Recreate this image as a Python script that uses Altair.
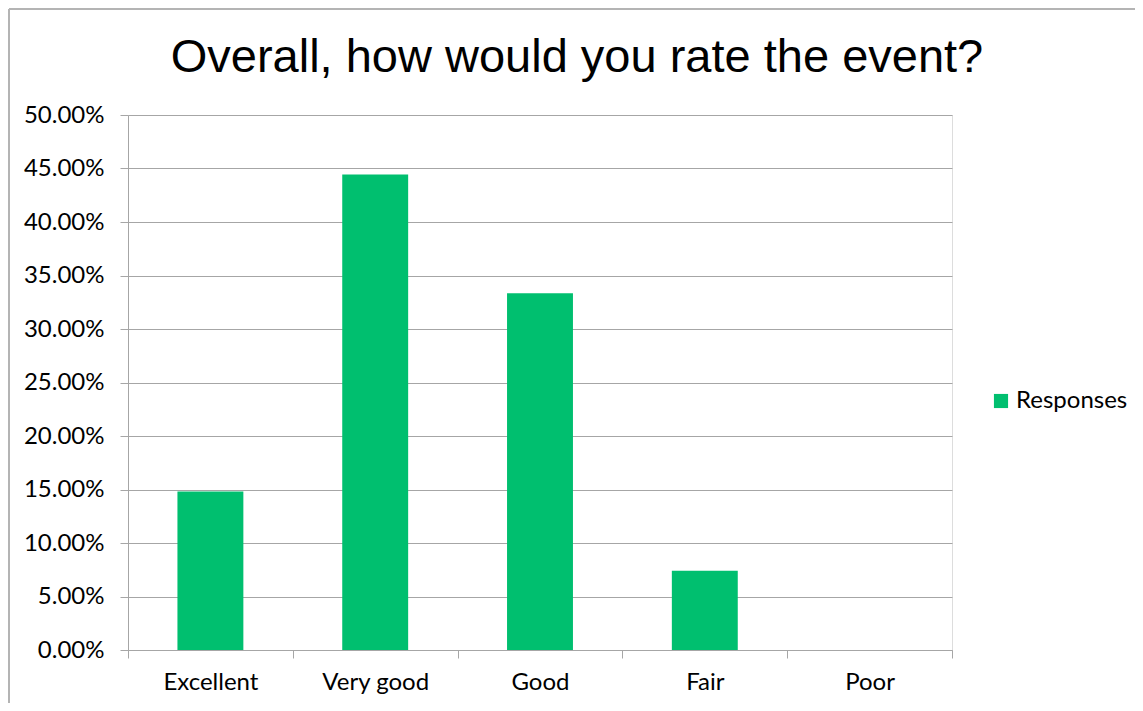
import altair as alt
import pandas as pd

title_text = "Overall, how would you rate the event?"
categories = ["Excellent", "Very good", "Good", "Fair", "Poor"]
values = [0.1481, 0.4444, 0.3333, 0.0741, 0.0]
series_name = "Responses"
y_ticks = [0, 0.05, 0.10, 0.15, 0.20, 0.25, 0.30, 0.35, 0.40, 0.45, 0.50]

df = pd.DataFrame({"rating": categories, "value": values, "series": [series_name] * len(categories)})

GRAY = "#a6a6a6"
GREEN = "#00BF6F"
LABEL_FONT = "Lato"
FS = 24

bars = alt.Chart(df).mark_bar(width=alt.RelativeBandSize(0.4)).encode(
    x=alt.X(
        "rating:N",
        sort=categories,
        scale=alt.Scale(paddingInner=0, paddingOuter=0),
        axis=alt.Axis(
            title=None, labelAngle=0, tickBand="extent", grid=False,
            domainColor=GRAY, tickColor=GRAY, tickSize=8, labelPadding=12,
            labelFont=LABEL_FONT, labelFontSize=FS, labelColor="#000000",
        ),
    ),
    y=alt.Y(
        "value:Q",
        scale=alt.Scale(domain=[0, 0.5], nice=False),
        axis=alt.Axis(
            title=None, format=".2%", values=y_ticks, gridColor=GRAY,
            domainColor=GRAY, tickColor=GRAY, tickSize=8, labelPadding=16,
            labelFont=LABEL_FONT, labelFontSize=FS, labelColor="#000000",
        ),
    ),
    color=alt.Color(
        "series:N",
        scale=alt.Scale(domain=[series_name], range=[GREEN]),
        legend=alt.Legend(
            title=None, orient="none", legendX=861, legendY=274,
            symbolType="square", symbolSize=200, symbolStrokeWidth=0,
            labelOffset=3,
            labelFont=LABEL_FONT, labelFontSize=FS, labelColor="#000000",
        ),
    ),
)

frame_df = pd.DataFrame({"k": [0]})
title_mark = alt.Chart(frame_df).mark_text(
    text=title_text, font="Liberation Sans", fontSize=47, color="#000000",
    align="center", baseline="alphabetic",
).encode(x=alt.value(449), y=alt.value(-43))
top_border = alt.Chart(frame_df).mark_rule(color="#b4b4b4", strokeWidth=2).encode(
    x=alt.value(-119), x2=alt.value(1010), y=alt.value(-106)
)
left_border = alt.Chart(frame_df).mark_rule(color="#b4b4b4", strokeWidth=2).encode(
    x=alt.value(-119), y=alt.value(-106), y2=alt.value(600)
)

chart = alt.layer(bars, title_mark, top_border, left_border).properties(
    width=824,
    height=535,
    autosize=alt.AutoSizeParams(type="none"),
    padding={"left": 120, "top": 107, "right": 183, "bottom": 53},
).configure_view(strokeWidth=0).configure(background="white")

chart.save("out.html", embed_options={"renderer": "svg", "actions": False})
